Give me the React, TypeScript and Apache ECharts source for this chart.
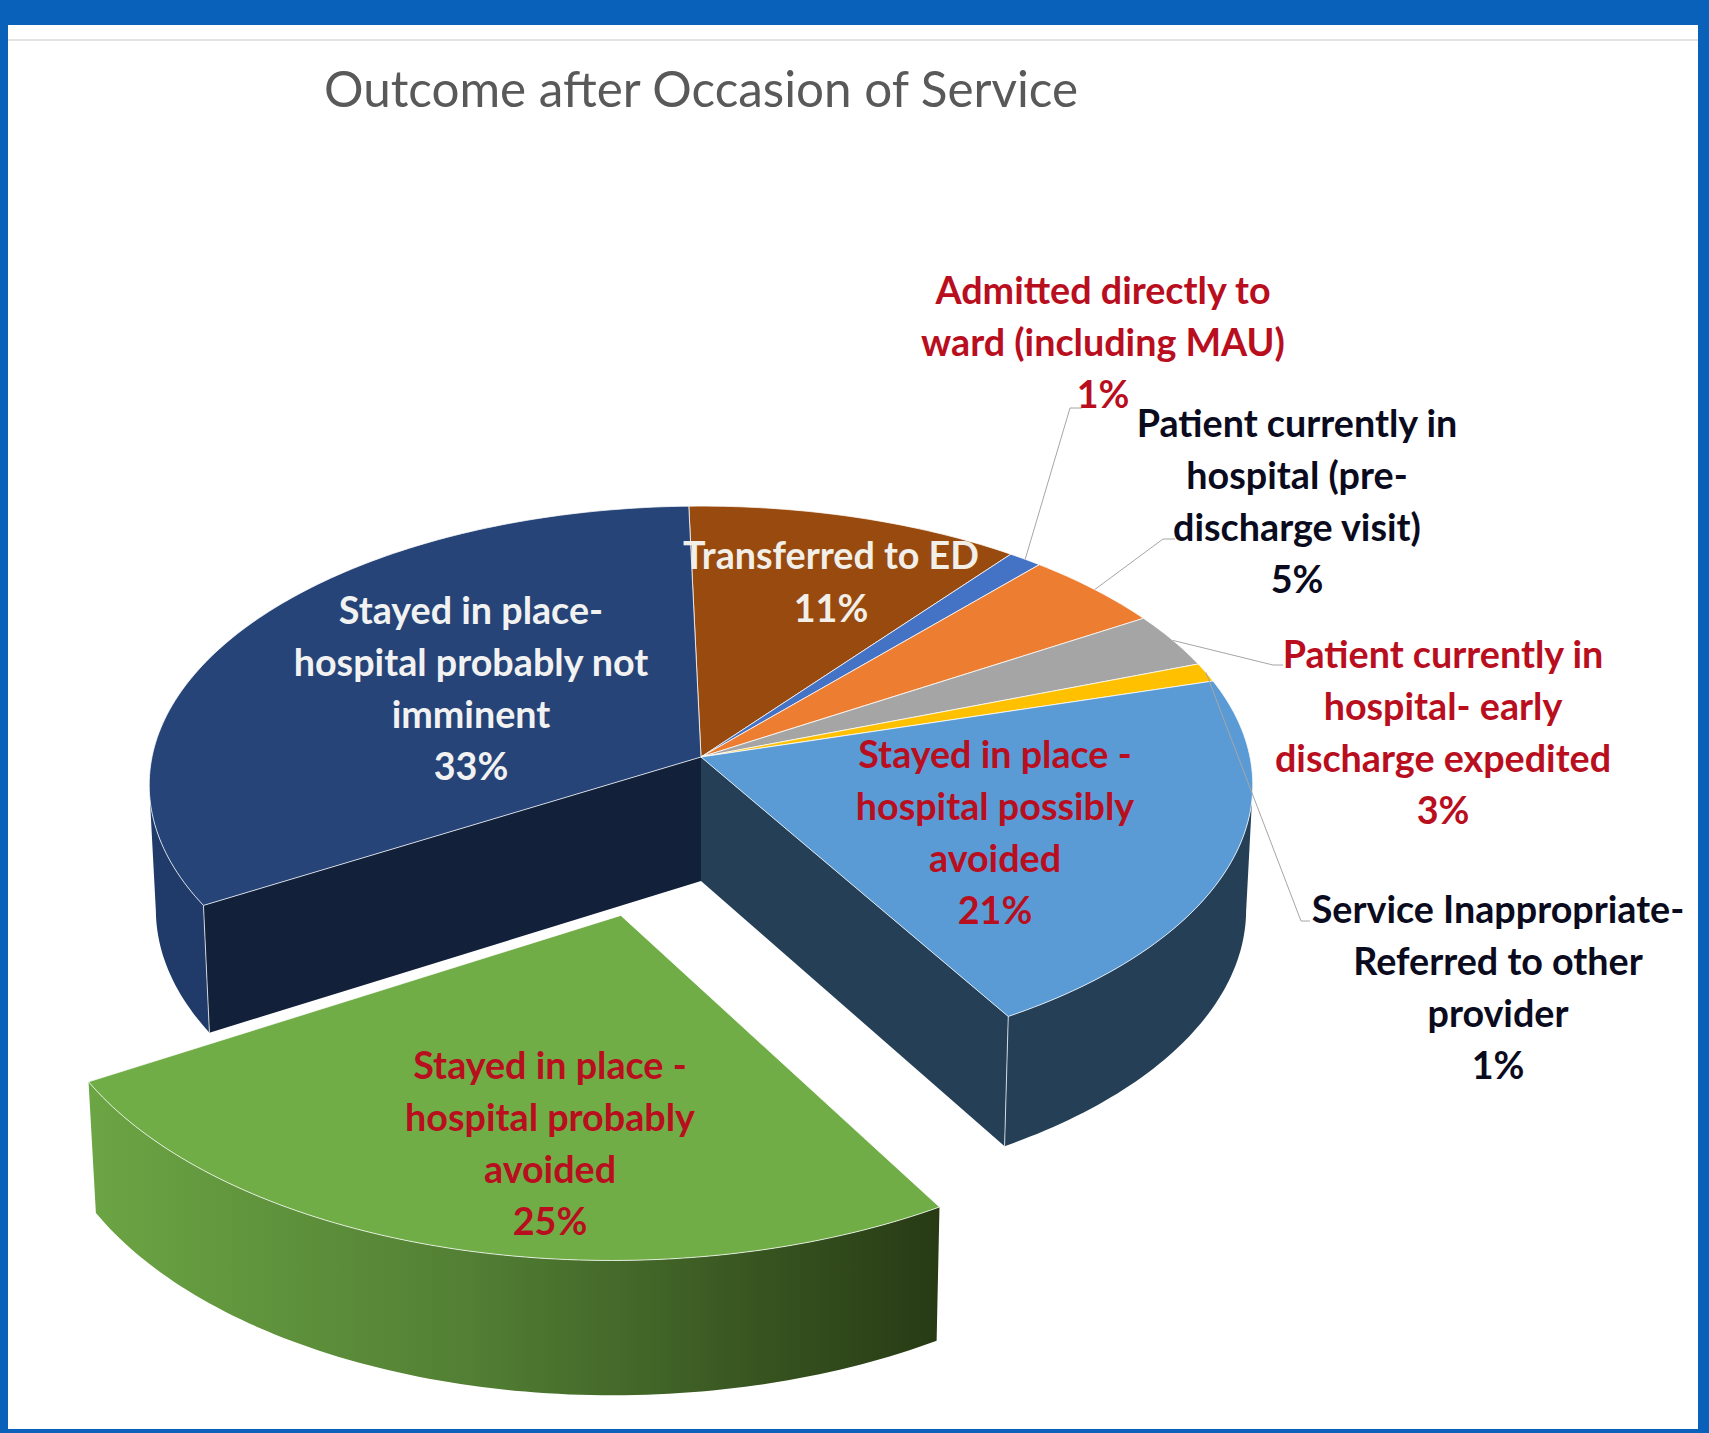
import React, { useEffect, useRef } from "react";
import * as echarts from "echarts";

const TITLE = "Outcome after Occasion of Service";
const NAMES = [
  "Transferred to ED",
  "Admitted directly to\nward (including MAU)",
  "Patient currently in\nhospital (pre-\ndischarge visit)",
  "Patient currently in\nhospital- early\ndischarge expedited",
  "Service Inappropriate-\nReferred to other\nprovider",
  "Stayed in place -\nhospital possibly\navoided",
  "Stayed in place -\nhospital probably\navoided",
  "Stayed in place-\nhospital probably not\nimminent",
];
const VALUES = [10.8, 1.1, 4.6, 3.2, 1.1, 21.0, 25.0, 33.1];
const COLORS = ["#994a0e", "#4472c4", "#ed7d31", "#a5a5a5", "#ffc000", "#5b9bd5", "#70ad47", "#264478"];
const TEXT_COLORS = ["#f2efe9", "#b90e1e", "#0b0b20", "#b90e1e", "#0b0b20", "#b90e1e", "#b90e1e", "#f2f2f2"];

// layout of the projected pie
const CX = 701, CY = 757, RX = 549, RY = 276, P = 0.1, DEPTH = 124, START = -1.4;
const EXPLODED = 6, EXPLODE = 0.56;
const LABEL_POS = [
  [831, 581], [1103, 341.5], [1297, 500.5], [1443, 731.5], [1498, 986.5], [995, 831.5], [550, 1142.5], [471, 687.5],
];
const LEADERS: (number[][] | null)[] = [
  null, [[1070, 408], [1082, 408]], [[1163, 539], [1175, 539]], [[1273, 665], [1283, 665]], [[1301, 921], [1310, 921]], null, null, null,
];
const LINE_H = 52.2;
const FONT = 'bold 37.7px Lato';
const TOTAL = VALUES.reduce((a, b) => a + b, 0);

const rad = (d: number) => (d * Math.PI) / 180;
function project(theta: number, r: number, ou: number, ov: number, down: boolean): number[] {
  const u = ou + r * Math.sin(rad(theta));
  const v = ov - r * Math.cos(rad(theta));
  const s = 1 / (1 - P * v);
  const k = down ? 0.988 : 1;
  return [CX + RX * u * s * k, CY + RY * v * s + (down ? DEPTH * Math.sqrt(s) : 0)];
}
function arc(a: number, b: number, ou: number, ov: number, down: boolean) {
  const n = Math.max(2, Math.ceil(Math.abs(b - a)));
  const pts: number[][] = [];
  for (let i = 0; i <= n; i++) pts.push(project(a + ((b - a) * i) / n, 1, ou, ov, down));
  return pts;
}

function renderItem(params: any) {
  const i = params.dataIndex;
  let cum = 0;
  for (let j = 0; j < i; j++) cum += VALUES[j];
  const a = START + (cum / TOTAL) * 360;
  const b = a + (VALUES[i] / TOTAL) * 360;
  const mid = (a + b) / 2;
  const e = i === EXPLODED ? EXPLODE : 0;
  const ou = e * Math.sin(rad(mid));
  const ov = -e * Math.cos(rad(mid));
  const children: any[] = [];
  const white = "rgba(255,255,255,0.75)";

  // outer wall, from silhouette to silhouette
  const wa = Math.max(a, 96), wb = Math.min(b, 264);
  if (wb > wa) {
    const top = arc(wa, wb, ou, ov, false);
    const bot = arc(wa, wb, ou, ov, true).reverse();
    let fill: any = "#243f56";
    if (i === EXPLODED) {
      fill = new echarts.graphic.LinearGradient(0, 0, 1, 0, [
        { offset: 0, color: "#6ca544" },
        { offset: 0.45, color: "#527f34" },
        { offset: 1, color: "#273a14" },
      ]);
    } else if (i === 7) fill = "#203a6a";
    children.push({ type: "polygon", z2: 1, shape: { points: top.concat(bot) }, style: { fill } });
  }
  // inner cut faces next to the pulled-out slice
  const center = project(0, 0, ou, ov, false);
  const centerDown = project(0, 0, ou, ov, true);
  if (i === EXPLODED - 1 || i === EXPLODED + 1) {
    const edge = i < EXPLODED ? b : a;
    const pTop = project(edge, 1, ou, ov, false);
    const pBot = project(edge, 1, ou, ov, true);
    children.push({
      type: "polygon", z2: 2,
      shape: { points: [center, pTop, pBot, centerDown] },
      style: { fill: i < EXPLODED ? "#243f56" : "#12203a" },
    });
    children.push({
      type: "line", z2: 3,
      shape: { x1: pTop[0], y1: pTop[1], x2: pBot[0], y2: pBot[1] },
      style: { stroke: white, lineWidth: 1 },
    });
  }
  // top face
  children.push({
    type: "polygon", z2: 4,
    shape: { points: [center, ...arc(a, b, ou, ov, false)] },
    style: { fill: COLORS[i], stroke: white, lineWidth: 1, lineJoin: "round" },
  });
  // leader
  const leader = LEADERS[i];
  if (leader) {
    children.push({
      type: "polyline", z2: 5,
      shape: { points: [project(mid, 1, ou, ov, false), ...leader] },
      style: { stroke: "#a6a6a6", lineWidth: 1, fill: "none" },
    });
  }
  // label
  children.push({
    type: "text", z2: 6,
    style: {
      x: LABEL_POS[i][0], y: LABEL_POS[i][1],
      text: `${NAMES[i]}\n${Math.round(VALUES[i])}%`,
      fill: TEXT_COLORS[i], font: FONT, lineHeight: LINE_H,
      align: "center", verticalAlign: "middle",
    },
  });
  return { type: "group", children };
}

export default function App() {
  const ref = useRef<HTMLDivElement>(null);
  useEffect(() => {
    const chart = echarts.init(ref.current!, undefined, { renderer: "svg" });
    chart.setOption({
      animation: false,
      backgroundColor: "#0961ba",
      title: {
        text: TITLE, left: 319, top: 58,
        textStyle: { fontFamily: "Lato", fontWeight: 400, fontSize: 49.4, color: "#595959" },
      },
      graphic: [
        { type: "rect", z: -10, shape: { x: 8, y: 25, width: 1690, height: 1404 }, style: { fill: "#ffffff" } },
        { type: "rect", z: -9, shape: { x: 8, y: 39, width: 1690, height: 2 }, style: { fill: "#e3e3e3" } },
      ],
      series: [
        {
          type: "custom",
          coordinateSystem: "none",
          renderItem,
          data: VALUES.map((v, i) => [i, v]),
          silent: true,
        },
      ],
    });
    return () => chart.dispose();
  }, []);
  return <div ref={ref} style={{ position: "absolute", left: 0, top: 0, width: 1709, height: 1433 }} />;
}
